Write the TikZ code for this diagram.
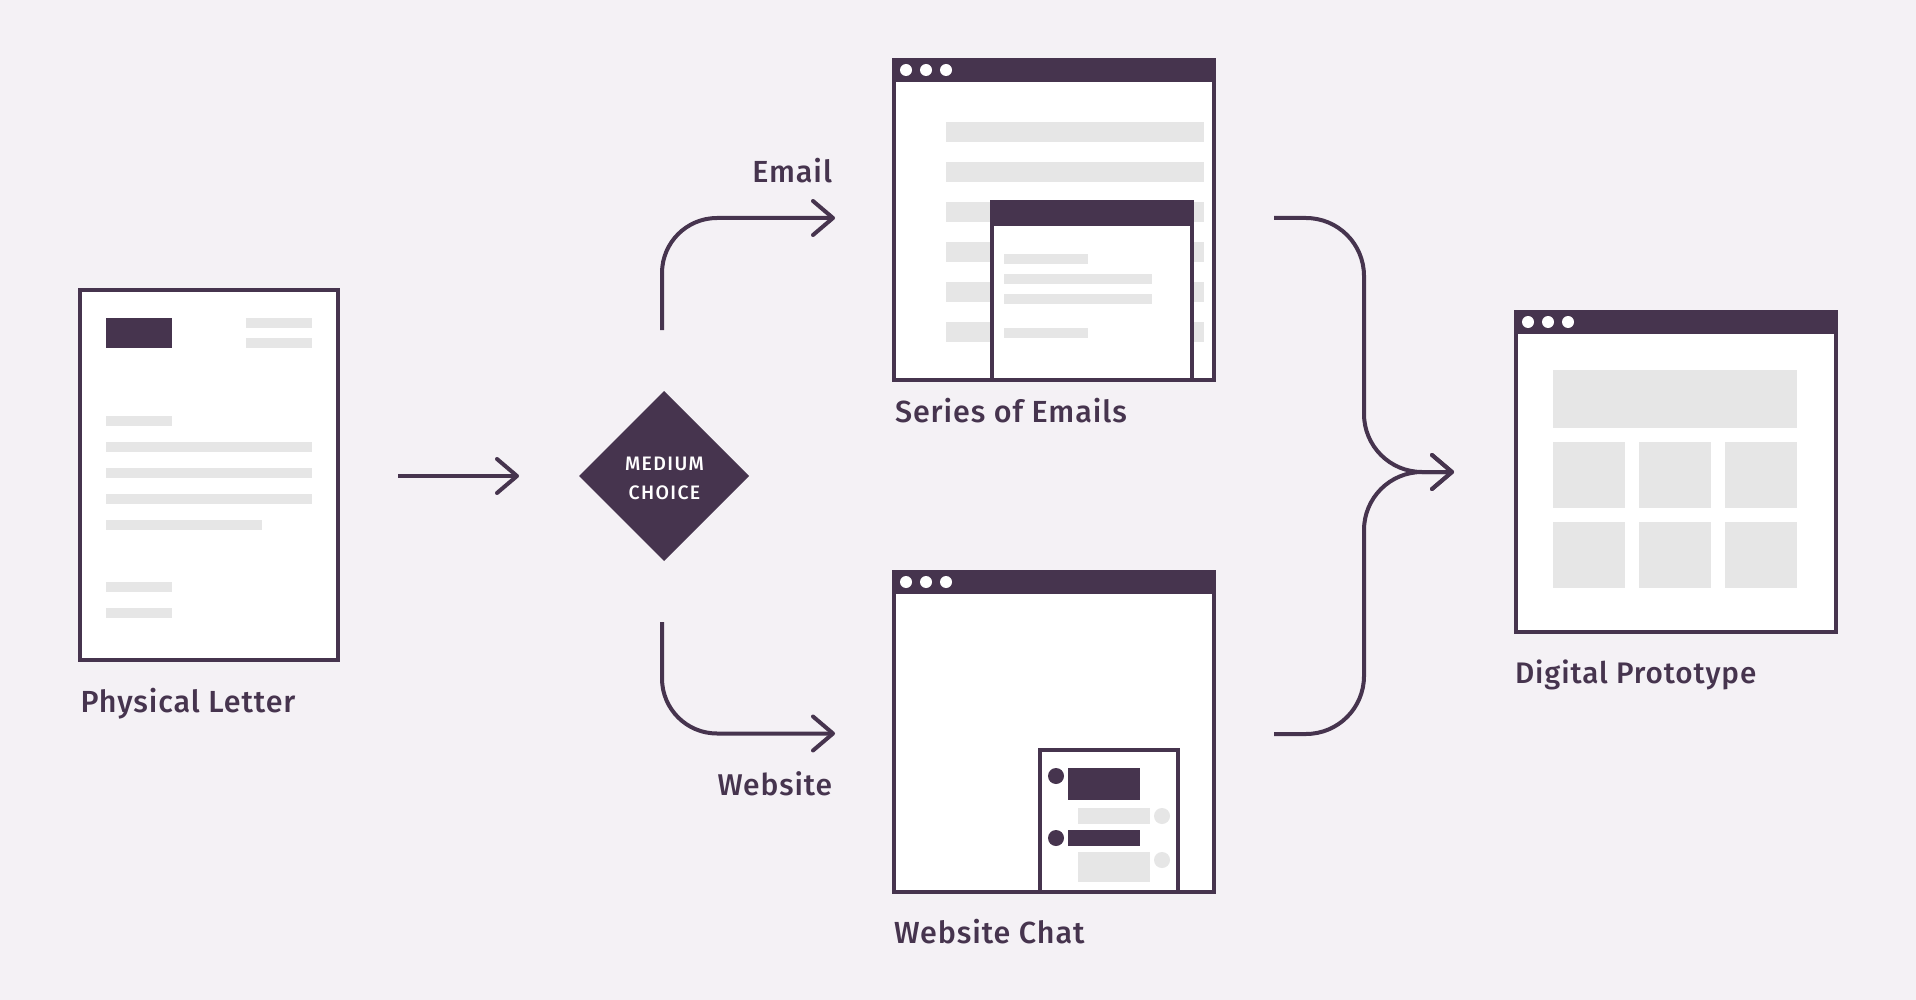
\documentclass[tikz,border=0pt]{standalone}
\usepackage{fontspec}
\setmainfont{Fira Sans Medium}[LetterSpace=3]
\newfontfamily\smallcaplabel{Fira Sans Medium}[LetterSpace=7]
\usetikzlibrary{arrows.meta,shapes.geometric}
\definecolor{ink}{HTML}{46344E}
\definecolor{paper}{HTML}{F4F1F5}
\definecolor{bar}{HTML}{E6E6E6}
\tikzset{
  x=1pt,y=-1pt,
  frame/.style={draw=ink,line width=4pt,fill=white,rectangle,inner sep=0pt,outer sep=0pt,anchor=north west},
  title/.style={fill=ink,rectangle,inner sep=0pt,outer sep=0pt,anchor=north west},
  dot/.style={circle,fill=white,inner sep=0pt,outer sep=0pt,minimum size=12pt},
  idot/.style={circle,fill=ink,inner sep=0pt,outer sep=0pt,minimum size=16pt},
  gdot/.style={circle,fill=bar,inner sep=0pt,outer sep=0pt,minimum size=16pt},
  caption/.style={inner sep=0pt,outer sep=0pt,text=ink,font=\fontsize{30.5}{36}\selectfont,anchor=base west},
  rcaption/.style={caption,anchor=base east},
  flow/.style={draw=ink,line width=4pt,rounded corners=58pt},
  curved flow/.style={draw=ink,line width=4pt,rounded corners=55pt},
  arrowed/.style={-{Straight Barb[length=20pt,width=34pt,line width=4pt,round=false]}},
}
\newcommand{\gbar}[4]{\fill[bar] (#1,#2) rectangle (#3,#4);}
\newcommand{\dbar}[4]{\fill[ink] (#1,#2) rectangle (#3,#4);}
\begin{document}
\begin{tikzpicture}
\useasboundingbox (0,0) rectangle (1916,1000);
\fill[paper] (0,0) rectangle (1916,1000);

% physical letter
\node[frame,minimum width=258pt,minimum height=370pt] (letter) at (80,290) {};
\dbar{106}{318}{172}{348}
\gbar{246}{318}{312}{328}
\gbar{246}{338}{312}{348}
\gbar{106}{416}{172}{426}
\gbar{106}{442}{312}{452}
\gbar{106}{468}{312}{478}
\gbar{106}{494}{312}{504}
\gbar{106}{520}{262}{530}
\gbar{106}{582}{172}{592}
\gbar{106}{608}{172}{618}
\node[caption] (letterlabel) at (80.5,712) {Physical Letter};

% diamond
\node[diamond,fill=ink,inner sep=0pt,outer sep=0pt,minimum width=170pt,minimum height=170pt,aspect=1] (choice) at (664,476) {};
\node[inner sep=0pt,text=white,anchor=base,font=\smallcaplabel\fontsize{19.5}{23}\selectfont] (medium) at (664.5,470) {MEDIUM};
\node[inner sep=0pt,text=white,anchor=base,font=\smallcaplabel\fontsize{19.5}{23}\selectfont] (choicetext) at (664.5,499.5) {CHOICE};

% series of emails
\node[frame,minimum width=320pt,minimum height=320pt] (emails) at (894,60) {};
\node[title,minimum width=324pt,minimum height=24pt] (emailsbar) at (892,58) {};
\node[dot] (ed1) at (906,70) {};
\node[dot] (ed2) at (926,70) {};
\node[dot] (ed3) at (946,70) {};
\gbar{946}{122}{1204}{142}
\gbar{946}{162}{1204}{182}
\gbar{946}{202}{1204}{222}
\gbar{946}{242}{1204}{262}
\gbar{946}{282}{1204}{302}
\gbar{946}{322}{1204}{342}
\node[frame,minimum width=200pt,minimum height=178pt] (inner) at (992,202) {};
\node[title,minimum width=204pt,minimum height=26pt] (innerbar) at (990,200) {};
\gbar{1004}{254}{1088}{264}
\gbar{1004}{274}{1152}{284}
\gbar{1004}{294}{1152}{304}
\gbar{1004}{328}{1088}{338}
\node[caption] (emailslabel) at (895,422) {Series of Emails};

% website chat
\node[frame,minimum width=320pt,minimum height=320pt] (web) at (894,572) {};
\node[title,minimum width=324pt,minimum height=24pt] (webbar) at (892,570) {};
\node[dot] (wd1) at (906,582) {};
\node[dot] (wd2) at (926,582) {};
\node[dot] (wd3) at (946,582) {};
\node[frame,minimum width=138pt,minimum height=142pt] (chat) at (1040,750) {};
\node[idot] (c1) at (1056,776) {};
\dbar{1068}{768}{1140}{800}
\gbar{1078}{808}{1150}{824}
\node[gdot] (g1) at (1162,816) {};
\node[idot] (c2) at (1056,838) {};
\dbar{1068}{830}{1140}{846}
\gbar{1078}{852}{1150}{882}
\node[gdot] (g2) at (1162,860) {};
\node[caption] (weblabel) at (894,943.5) {Website Chat};

% digital prototype
\node[frame,minimum width=320pt,minimum height=320pt] (proto) at (1516,312) {};
\node[title,minimum width=324pt,minimum height=24pt] (protobar) at (1514,310) {};
\node[dot] (pd1) at (1528,322) {};
\node[dot] (pd2) at (1548,322) {};
\node[dot] (pd3) at (1568,322) {};
\gbar{1553}{370}{1797}{428}
\gbar{1553}{442}{1625}{508}
\gbar{1639}{442}{1711}{508}
\gbar{1725}{442}{1797}{508}
\gbar{1553}{522}{1625}{588}
\gbar{1639}{522}{1711}{588}
\gbar{1725}{522}{1797}{588}
\node[caption,font=\fontsize{29.7}{36}\selectfont] (protolabel) at (1515,683) {Digital Prototype};

% connector anchors
\coordinate (a0) at (398,476);
\coordinate (a1) at (519,476);
\coordinate (up0) at (662,330);
\coordinate (upc) at (662,218);
\coordinate (up1) at (835,218);
\coordinate (dn0) at (662,622);
\coordinate (dnc) at (662,733.5);
\coordinate (dn1) at (835,733.5);
\coordinate (b0) at (1274,218);
\coordinate (b1) at (1364,218);
\coordinate (bm) at (1364,472);
\coordinate (bt) at (1454,472);
\coordinate (d0) at (1274,734);
\coordinate (d1) at (1364,734);

\draw[flow,arrowed] (a0) -- (a1);
\draw[curved flow,arrowed] (up0) -- (upc) -- (up1);
\draw[curved flow,arrowed] (dn0) -- (dnc) -- (dn1);
\draw[flow,arrowed] (b0) -- (b1) -- (bm) -- (bt);
\draw[flow,arrowed] (d0) -- (d1) -- (bm) -- (bt);

\node[rcaption] (emaillabel) at (832,182.5) {Email};
\node[rcaption,font=\fontsize{30}{36}\selectfont] (websitelabel) at (832,795.5) {Website};
\end{tikzpicture}
\end{document}
